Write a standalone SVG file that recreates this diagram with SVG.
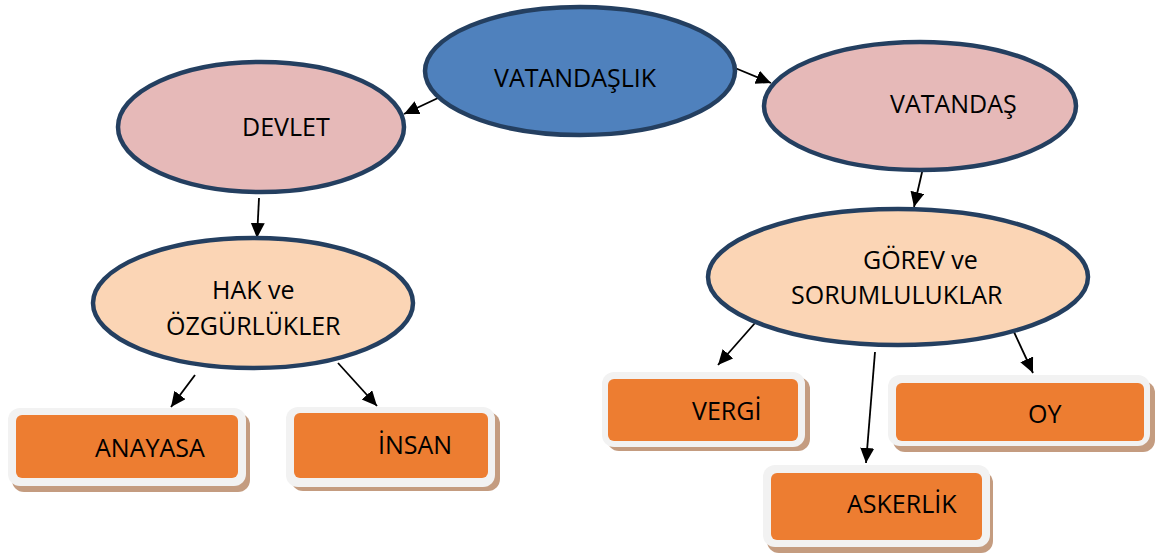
<svg xmlns="http://www.w3.org/2000/svg" width="1157" height="559" viewBox="0 0 1157 559">
  <style>
    .ell { stroke: #243f60; stroke-width: 4.5; }
    .blue { fill: #4f81bd; }
    .pink { fill: #e6b9b8; }
    .peach { fill: #fbd5b5; }
    .shadow { fill: #c49c80; }
    .frame { fill: #f2f2f2; }
    .box { fill: #ed7d31; }
    .t { font-family: "Open Sans", "Noto Sans", "Liberation Sans", sans-serif; font-size: 25px; fill: #000; }
    .conn line { stroke: #000; stroke-width: 1.8; marker-end: url(#arrow); }
  </style>
  <defs>
    <marker id="arrow" markerUnits="userSpaceOnUse" markerWidth="16" markerHeight="16" refX="15" refY="7" orient="auto">
      <path d="M0,0 L15,7 L0,14 z" fill="#000"/>
    </marker>
  </defs>
  <rect width="1157" height="559" fill="#fff"/>

  <g id="connectors" class="conn">
    <line x1="438" y1="98" x2="404" y2="114"/>
    <line x1="735" y1="68" x2="771" y2="83"/>
    <line x1="259" y1="198" x2="257" y2="238"/>
    <line x1="923" y1="168" x2="914" y2="207"/>
    <line x1="195" y1="375" x2="171" y2="407"/>
    <line x1="338" y1="363" x2="377" y2="406"/>
    <line x1="755" y1="323" x2="718" y2="365"/>
    <line x1="875" y1="352" x2="866" y2="463"/>
    <line x1="1014" y1="332" x2="1033" y2="373"/>
  </g>

  <g id="vatandaslik">
    <ellipse class="ell blue" cx="580" cy="71" rx="155" ry="64"/>
    <text class="t" x="494" y="87">VATANDAŞLIK</text>
  </g>
  <g id="devlet">
    <ellipse class="ell pink" cx="261" cy="127" rx="143" ry="65"/>
    <text class="t" x="242" y="136">DEVLET</text>
  </g>
  <g id="vatandas">
    <ellipse class="ell pink" cx="920" cy="106" rx="156" ry="64"/>
    <text class="t" x="890" y="113">VATANDAŞ</text>
  </g>
  <g id="hak">
    <ellipse class="ell peach" cx="253" cy="303" rx="160" ry="65"/>
    <text class="t" x="212" y="299">HAK ve</text>
    <text class="t" x="166" y="335">ÖZGÜRLÜKLER</text>
  </g>
  <g id="gorev">
    <ellipse class="ell peach" cx="898" cy="277" rx="190" ry="68"/>
    <text class="t" x="863" y="269">GÖREV ve</text>
    <text class="t" x="791" y="304">SORUMLULUKLAR</text>
  </g>

  <g id="anayasa">
    <rect class="shadow" x="12" y="413" width="238" height="79" rx="12"/>
    <rect class="frame" x="8" y="408" width="238" height="78" rx="12"/>
    <rect class="box" x="16" y="415" width="222" height="63" rx="6"/>
    <text class="t" x="95" y="457">ANAYASA</text>
  </g>
  <g id="insan">
    <rect class="shadow" x="291" y="412" width="209" height="79" rx="12"/>
    <rect class="frame" x="286" y="407" width="209" height="80" rx="12"/>
    <rect class="box" x="294" y="413" width="194" height="65" rx="6"/>
    <text class="t" x="378" y="454">İNSAN</text>
  </g>
  <g id="vergi">
    <rect class="shadow" x="607" y="377" width="203" height="74" rx="12"/>
    <rect class="frame" x="602" y="372" width="203" height="75" rx="12"/>
    <rect class="box" x="608" y="379" width="190" height="62" rx="6"/>
    <text class="t" x="692" y="420">VERGİ</text>
  </g>
  <g id="oy">
    <rect class="shadow" x="893" y="381" width="262" height="71" rx="12"/>
    <rect class="frame" x="888" y="375" width="262" height="71" rx="12"/>
    <rect class="box" x="896" y="383" width="248" height="58" rx="6"/>
    <text class="t" x="1028" y="423">OY</text>
  </g>
  <g id="askerlik">
    <rect class="shadow" x="767" y="471" width="226" height="82" rx="12"/>
    <rect class="frame" x="763" y="465" width="227" height="82" rx="12"/>
    <rect class="box" x="771" y="473" width="211" height="67" rx="6"/>
    <text class="t" x="847" y="513">ASKERLİK</text>
  </g>
</svg>
